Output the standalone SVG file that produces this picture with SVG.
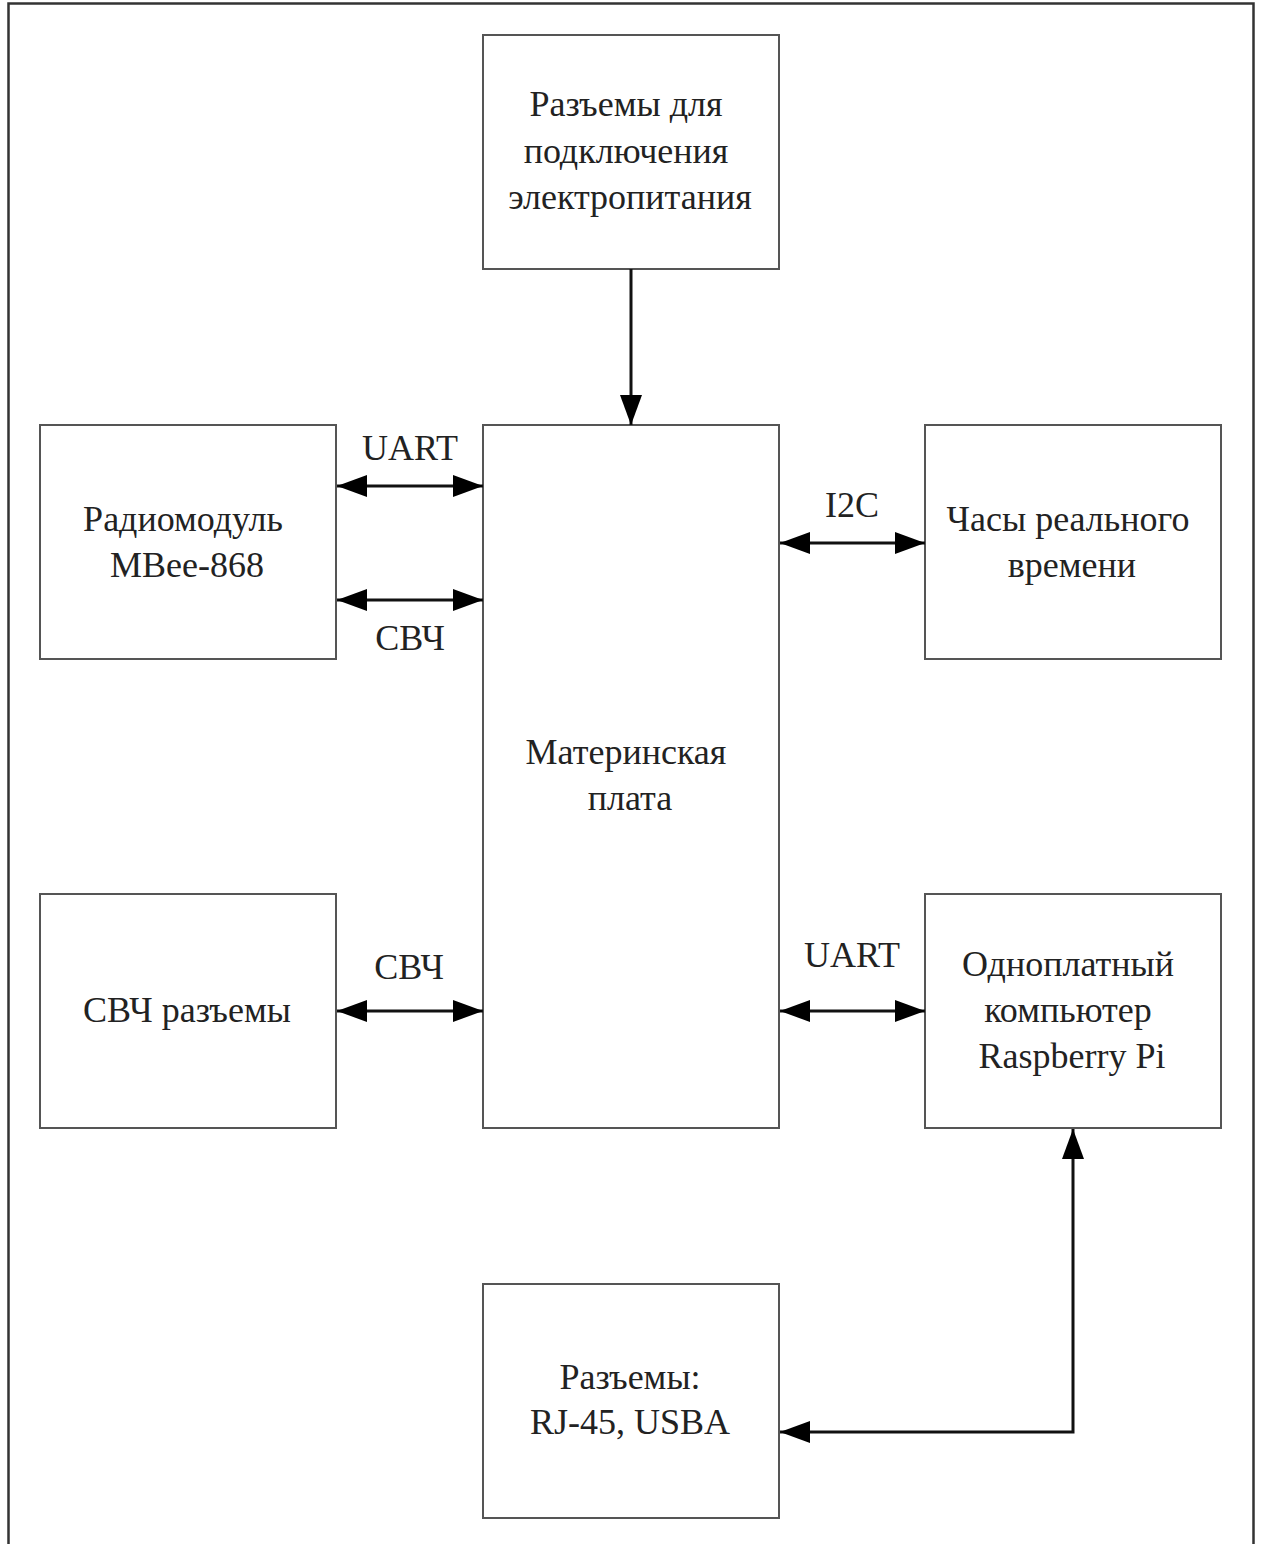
<svg xmlns="http://www.w3.org/2000/svg" width="1261" height="1544" viewBox="0 0 1261 1544">
<style>
.box{fill:#fff;stroke:#555;stroke-width:2}
.t{font-family:"Liberation Serif","Times New Roman",serif;font-size:36px;fill:#222;text-anchor:middle}
.c{fill:none;stroke:#111;stroke-width:3}
.frame{fill:none;stroke:#333;stroke-width:2.5}
</style>
<defs>
<marker id="ah" viewBox="0 0 30 22" refX="30" refY="11" markerWidth="30" markerHeight="22" markerUnits="userSpaceOnUse" orient="auto-start-reverse">
<path d="M0,0 L30,11 L0,22 Z" fill="#000"/>
</marker>
</defs>
<rect width="1261" height="1544" fill="#fff"/>
<path class="frame" d="M8.5,1544 V3.5 H1253.5 V1544"/>
<g id="n-power"><rect class="box" x="483" y="35" width="296" height="234"/>
<text class="t" x="626" y="116">Разъемы для</text><text class="t" x="626" y="163">подключения</text><text class="t" x="630" y="209">электропитания</text></g>
<g id="n-main"><rect class="box" x="483" y="425" width="296" height="703"/>
<text class="t" x="626" y="764">Материнская</text><text class="t" x="630" y="810">плата</text></g>
<g id="n-radio"><rect class="box" x="40" y="425" width="296" height="234"/>
<text class="t" x="183" y="531">Радиомодуль</text><text class="t" x="187" y="577">MBee-868</text></g>
<g id="n-clock"><rect class="box" x="925" y="425" width="296" height="234"/>
<text class="t" x="1068" y="531">Часы реального</text><text class="t" x="1072" y="577">времени</text></g>
<g id="n-rf"><rect class="box" x="40" y="894" width="296" height="234"/>
<text class="t" x="187" y="1022">СВЧ разъемы</text></g>
<g id="n-rpi"><rect class="box" x="925" y="894" width="296" height="234"/>
<text class="t" x="1068" y="976">Одноплатный</text><text class="t" x="1068" y="1022">компьютер</text><text class="t" x="1072" y="1068">Raspberry Pi</text></g>
<g id="n-conn"><rect class="box" x="483" y="1284" width="296" height="234"/>
<text class="t" x="630" y="1389">Разъемы:</text><text class="t" x="630" y="1434">RJ-45, USBA</text></g>
<g id="connectors">
<line class="c" x1="337" y1="486" x2="483" y2="486" marker-start="url(#ah)" marker-end="url(#ah)"/>
<line class="c" x1="631" y1="269" x2="631" y2="425" marker-end="url(#ah)"/>
<line class="c" x1="337" y1="600" x2="483" y2="600" marker-start="url(#ah)" marker-end="url(#ah)"/>
<line class="c" x1="780" y1="543" x2="925" y2="543" marker-start="url(#ah)" marker-end="url(#ah)"/>
<line class="c" x1="337" y1="1011" x2="483" y2="1011" marker-start="url(#ah)" marker-end="url(#ah)"/>
<line class="c" x1="780" y1="1011" x2="925" y2="1011" marker-start="url(#ah)" marker-end="url(#ah)"/>
<path class="c" d="M780,1432 H1073 V1129" marker-start="url(#ah)" marker-end="url(#ah)"/>
<text class="t" x="410" y="460">UART</text>
<text class="t" x="410" y="650">СВЧ</text>
<text class="t" x="852" y="517">I2C</text>
<text class="t" x="409" y="979">СВЧ</text>
<text class="t" x="852" y="967">UART</text>
</g>
</svg>
